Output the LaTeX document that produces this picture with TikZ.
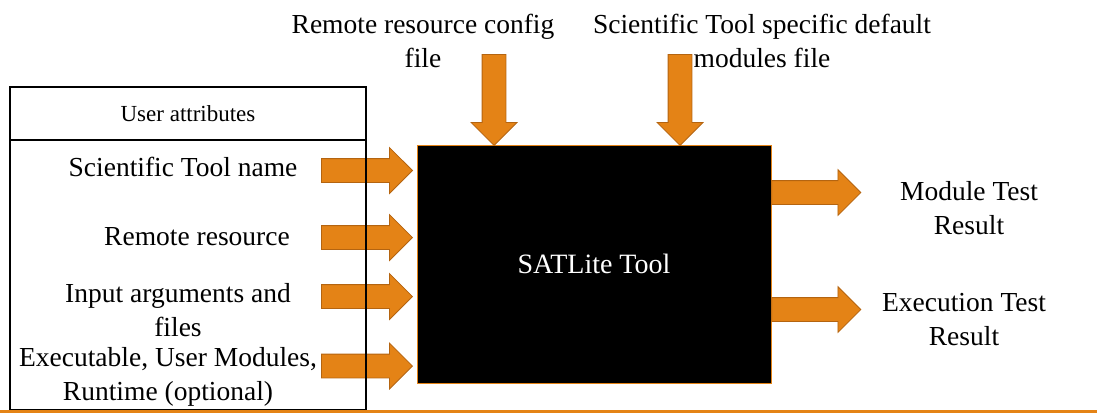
\documentclass[tikz,border=0pt]{standalone}
\usepackage{fontspec}
\setmainfont{Liberation Serif}
\usetikzlibrary{shapes.arrows}
\definecolor{fatorange}{RGB}{228,131,22}
\definecolor{fatedge}{RGB}{180,100,16}

\begin{document}
\begin{tikzpicture}[
    x=1pt, y=-1pt,
    txt/.style = { align=center,font=\fontsize{27.5}{34}\selectfont,inner sep=0pt },
    box/.style = { draw,line width=1.6pt,inner sep=0pt },
    fatarrow/.style = { single arrow,draw=fatedge,fill=fatorange,line width=.8pt,inner xsep=0pt,inner ysep=11.5pt,
                        minimum height=91pt,single arrow head extend=11pt }
    ]
    \useasboundingbox (0,0) rectangle (1097,413);
    % Definitions
    \coordinate (hdr)  at (188,113.5);
    \coordinate (lst)  at (188,275);
    \coordinate (sat)  at (594,264);
    \coordinate (stn)  at (183,167);
    \coordinate (rres) at (197,237);
    \coordinate (inp)  at (178,310);
    \coordinate (exe)  at (168,377);
    \coordinate (rcf)  at (423,41);
    \coordinate (sdm)  at (762,41);
    \coordinate (mtr)  at (969,208);
    \coordinate (etr)  at (964,320);
    \coordinate (bl)   at (0,411.5);
    \coordinate (br)   at (1097,411.5);
    % Main box
    \node(T)  at (sat)  [draw=fatorange,fill=black,line width=.8pt,minimum width=354pt,minimum height=238pt,
                         text=white,font=\fontsize{28}{34}\selectfont] {SATLite Tool};
    % Arrows
    \node(a1) at (413,170.5) [fatarrow,anchor=tip] {};
    \node(a2) at (413,237.5) [fatarrow,anchor=tip] {};
    \node(a3) at (413,296.5) [fatarrow,anchor=tip] {};
    \node(a4) at (413,366)   [fatarrow,anchor=tip] {};
    \node(a5) at (494,146)   [fatarrow,rotate=-90,anchor=tip] {};
    \node(a6) at (680,146)   [fatarrow,rotate=-90,anchor=tip] {};
    \node(a7) at (T.east |- 0,192.5) [fatarrow,minimum height=89pt,anchor=tail] {};
    \node(a8) at (T.east |- 0,309.5) [fatarrow,minimum height=89pt,anchor=tail] {};
    % Nodes
    \node(UA) at (hdr)  [box,minimum width=356pt,minimum height=53pt,font=\fontsize{23}{28}\selectfont] {User attributes};
    \node(UL) at (lst)  [box,minimum width=356pt,minimum height=270pt] {};
    \node(N)  at (stn)  [txt] {Scientific Tool name};
    \node(R)  at (rres) [txt] {Remote resource};
    \node(I)  at (inp)  [txt] {Input arguments and\\files};
    \node(X)  at (exe)  [txt] {Executable, User Modules,\\Runtime (optional)};
    \node(C)  at (rcf)  [txt] {Remote resource config\\file};
    \node(D)  at (sdm)  [txt] {Scientific Tool specific default\\modules file};
    \node(MT) at (mtr)  [txt] {Module Test\\Result};
    \node(ET) at (etr)  [txt] {Execution Test\\Result};
    \draw[fatorange,line width=3pt] (bl) -- (br);
\end{tikzpicture}
\end{document}
